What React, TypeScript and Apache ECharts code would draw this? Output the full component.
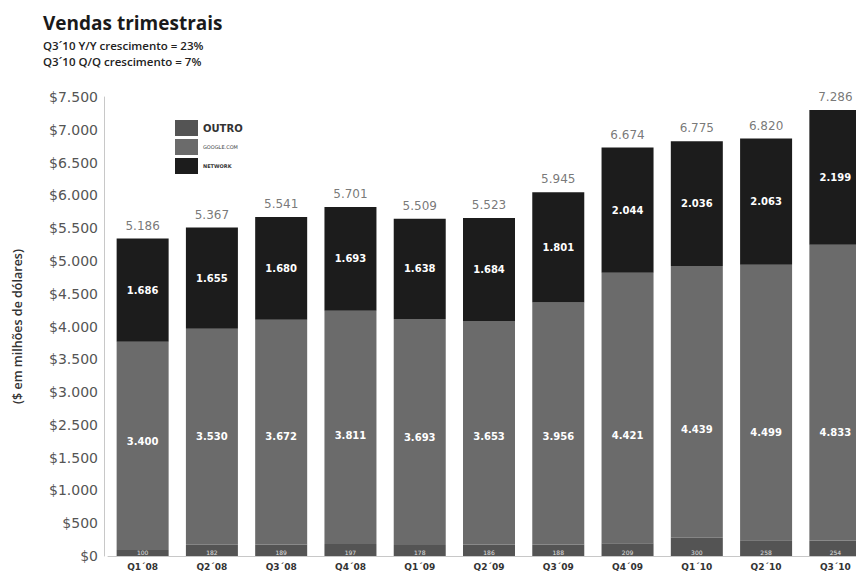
import React, { useEffect, useRef } from "react";
import * as echarts from "echarts";

const categories = ["Q1´08", "Q2´08", "Q3´08", "Q4´08", "Q1´09", "Q2´09", "Q3´09", "Q4´09", "Q1´10", "Q2´10", "Q3´10"];
const outro = [100, 182, 189, 197, 178, 186, 188, 209, 300, 258, 254];
const google = [3400, 3530, 3672, 3811, 3693, 3653, 3956, 4421, 4439, 4499, 4833];
const network = [1686, 1655, 1680, 1693, 1638, 1684, 1801, 2044, 2036, 2063, 2199];
const totals = [5186, 5367, 5541, 5701, 5509, 5523, 5945, 6674, 6775, 6820, 7286];
const yTickLabels = ["$0", "$500", "$1.000", "$1.500", "$2.500", "$3.000", "$3.500", "$4.000", "$4.500", "$5.000", "$5.500", "$6.000", "$6.500", "$7.000", "$7.500"];
const yMax = 7500;
const titleText = "Vendas trimestrais";
const subtitleLines = ["Q3´10 Y/Y crescimento = 23%", "Q3´10 Q/Q crescimento = 7%"];
const yAxisName = "($ em milhões de dólares)";
const seriesNames = ["OUTRO", "GOOGLE.COM", "NETWORK"];

const fmt = (n: number): string =>
  n >= 1000 ? `${Math.floor(n / 1000)}.${String(n % 1000).padStart(3, "0")}` : String(n);

const FONT = "DejaVu Sans";

export default function App() {
  const ref = useRef<HTMLDivElement>(null);
  useEffect(() => {
    if (!ref.current) return;
    const chart = echarts.init(ref.current, undefined, { renderer: "svg" });
    chart.setOption({
      animation: false,
      backgroundColor: "#ffffff",
      textStyle: { fontFamily: FONT },
      title: {
        text: titleText,
        subtext: subtitleLines.join("\n"),
        left: 38,
        top: 8,
        itemGap: 5,
        textStyle: { fontFamily: "Open Sans", fontWeight: 700, fontSize: 19, color: "#1a1a1a" },
        subtextStyle: { fontFamily: "Open Sans", fontWeight: 600, fontSize: 11.5, color: "#222", lineHeight: 16 },
      },
      legend: {
        orient: "vertical",
        left: 170,
        top: 115,
        itemWidth: 23,
        itemHeight: 16,
        itemGap: 3,
        icon: "rect",
        data: [
          { name: seriesNames[0], textStyle: { fontSize: 10, fontWeight: "bold", color: "#333", fontFamily: FONT } },
          { name: seriesNames[1], textStyle: { fontSize: 5, color: "#444", fontFamily: FONT } },
          { name: seriesNames[2], textStyle: { fontSize: 5, fontWeight: "bold", color: "#333", fontFamily: FONT } },
        ],
      },
      grid: { left: 108, top: 97, width: 762, height: 459 },
      xAxis: {
        type: "category",
        data: categories,
        axisLine: { lineStyle: { color: "#c8c8c8", width: 1 } },
        axisTick: { show: false },
        axisLabel: { fontFamily: FONT, fontWeight: "bold", fontSize: 9, color: "#333", margin: 6 },
      },
      yAxis: [
        { type: "value", min: 0, max: yMax, show: false },
        {
          type: "value",
          min: 0,
          max: yTickLabels.length - 1,
          interval: 1,
          position: "left",
          offset: 4,
          axisLine: { show: true, lineStyle: { color: "#c8c8c8", width: 1 } },
          axisTick: { show: false },
          splitLine: { show: false },
          axisLabel: {
            formatter: (v: number) => yTickLabels[Math.round(v)] ?? "",
            fontFamily: FONT,
            fontSize: 14,
            color: "#555",
            margin: 6,
          },
          name: yAxisName,
          nameLocation: "middle",
          nameGap: 80,
          nameTextStyle: { fontFamily: "Open Sans", fontWeight: 600, fontSize: 12.5, color: "#333" },
        },
      ],
      series: [
        {
          name: seriesNames[0],
          type: "bar",
          stack: "total",
          yAxisIndex: 0,
          barWidth: 52,
          data: outro,
          itemStyle: { color: "#545454" },
          label: { show: true, position: "insideBottom", distance: 1, fontSize: 6, color: "#e0e0e0", formatter: (p: any) => fmt(p.value) },
        },
        {
          name: seriesNames[1],
          type: "bar",
          stack: "total",
          yAxisIndex: 0,
          barWidth: 52,
          data: google,
          itemStyle: { color: "#6b6b6b" },
          label: { show: true, position: "insideBottom", distance: 103, fontSize: 10, fontWeight: "bold", color: "#ffffff", formatter: (p: any) => fmt(p.value) },
        },
        {
          name: seriesNames[2],
          type: "bar",
          stack: "total",
          yAxisIndex: 0,
          barWidth: 52,
          data: network,
          itemStyle: { color: "#1c1c1c" },
          label: { show: true, position: "inside", fontSize: 10, fontWeight: "bold", color: "#ffffff", formatter: (p: any) => fmt(p.value) },
        },
        {
          name: "Total",
          type: "scatter",
          yAxisIndex: 0,
          silent: true,
          symbolSize: 0,
          data: totals,
          label: { show: true, position: "top", distance: 7, fontSize: 12, color: "#555", fontFamily: FONT, formatter: (p: any) => fmt(p.value) },
        },
      ],
    });
    return () => chart.dispose();
  }, []);
  return (
    <div style={{ position: "fixed", left: 0, top: 0, width: 856, height: 573, overflow: "hidden", background: "#fff" }}>
      <div ref={ref} style={{ width: 870, height: 573 }} />
    </div>
  );
}
